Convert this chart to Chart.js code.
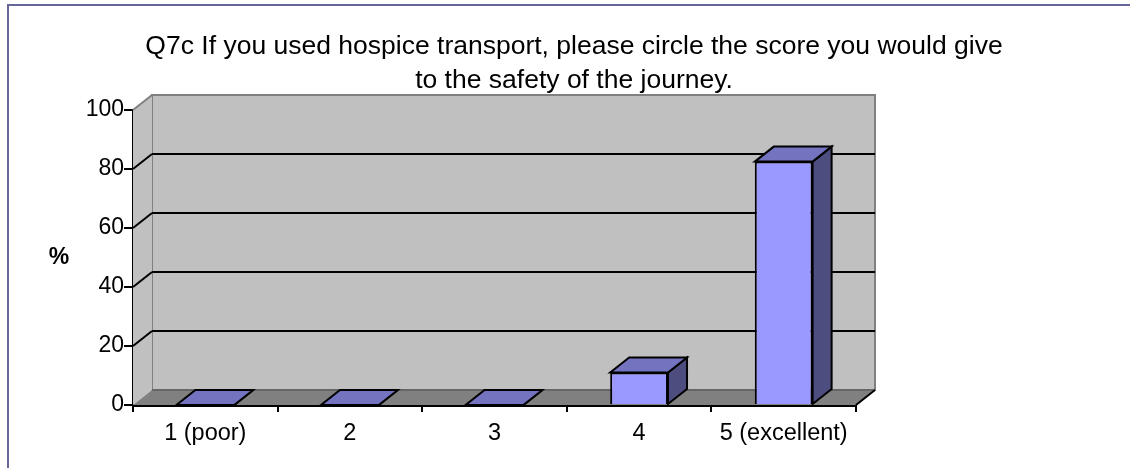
<!DOCTYPE html>
<html lang="en">
<head>
    <meta charset="UTF-8">
    <title>Q7c hospice transport</title>
    <script src="https://cdn.jsdelivr.net/npm/chart.js"></script>
    <style>
        body { margin: 0; background: #fff; }
        canvas { display: block; }
    </style>
</head>
<body>
    <canvas id="safetyChart" width="1130" height="468"></canvas>
    <script>
        const categories = ['1 (poor)', '2', '3', '4', '5 (excellent)'];
        const percentages = [0, 0, 0, 11, 82.5];
        const titleLines = [
            'Q7c If you used hospice transport, please circle the score you would give',
            'to the safety of the journey.'
        ];
        const yAxisLabel = '%';

        const depthX = 19;
        const depthY = 15;

        function poly(ctx, points, fill, stroke, lineWidth) {
            ctx.beginPath();
            points.forEach((p, i) => i ? ctx.lineTo(p[0], p[1]) : ctx.moveTo(p[0], p[1]));
            ctx.closePath();
            ctx.fillStyle = fill;
            ctx.fill();
            if (stroke) {
                ctx.strokeStyle = stroke;
                ctx.lineWidth = lineWidth;
                ctx.stroke();
            }
        }

        function line(ctx, x1, y1, x2, y2, color, width) {
            ctx.beginPath();
            ctx.moveTo(x1, y1);
            ctx.lineTo(x2, y2);
            ctx.strokeStyle = color;
            ctx.lineWidth = width;
            ctx.stroke();
        }

        // frame, back wall, side wall, floor and the 3d part of the bars
        const box3d = {
            id: 'box3d',
            afterLayout(chart) {
                // title is centred on the whole figure, not on the plot
                chart.titleBlock.left = 0;
                chart.titleBlock.right = 1148;
            },
            beforeDraw(chart) {
                const ctx = chart.ctx;
                ctx.save();
                line(ctx, 8, 5, 1130, 5, '#666699', 2);
                line(ctx, 8, 4, 8, 468, '#666699', 2);
                // scale titles get rotated on a y axis, this one stays upright
                ctx.fillStyle = '#000';
                ctx.font = 'bold 23px "Liberation Sans"';
                ctx.textAlign = 'center';
                ctx.textBaseline = 'middle';
                ctx.fillText(yAxisLabel, 59, 258);
                ctx.restore();
            },
            beforeDatasetsDraw(chart) {
                const ctx = chart.ctx;
                const a = chart.chartArea;
                const y = chart.scales.y;
                ctx.save();
                poly(ctx, [[a.left + depthX, a.top - depthY], [a.right + depthX, a.top - depthY],
                    [a.right + depthX, a.bottom - depthY], [a.left + depthX, a.bottom - depthY]], '#c0c0c0', '#808080', 2);
                poly(ctx, [[a.left, a.top], [a.left + depthX, a.top - depthY],
                    [a.left + depthX, a.bottom - depthY], [a.left, a.bottom]], '#c0c0c0');
                line(ctx, a.left, a.top, a.left + depthX, a.top - depthY, '#808080', 2);
                poly(ctx, [[a.left, a.bottom], [a.left + depthX, a.bottom - depthY],
                    [a.right + depthX, a.bottom - depthY], [a.right, a.bottom]], '#808080');
                line(ctx, a.left + depthX, a.bottom - depthY, a.right + depthX, a.bottom - depthY, '#666666', 2);
                y.ticks.forEach(t => {
                    if (t.value === 0 || t.value === 100) return;
                    const py = y.getPixelForValue(t.value);
                    line(ctx, a.left, py, a.left + depthX, py - depthY, '#000', 2);
                    line(ctx, a.left + depthX, py - depthY, a.right + depthX, py - depthY, '#000', 2);
                });
                line(ctx, a.right, a.bottom, a.right + depthX, a.bottom - depthY, '#000', 2);

                chart.getDatasetMeta(0).data.forEach(bar => {
                    const left = bar.x - bar.width / 2;
                    const right = bar.x + bar.width / 2;
                    poly(ctx, [[right, bar.y], [right + depthX, bar.y - depthY],
                        [right + depthX, bar.base - depthY], [right, bar.base]], '#4d4d80', '#000', 2);
                    poly(ctx, [[left, bar.y], [left + depthX, bar.y - depthY],
                        [right + depthX, bar.y - depthY], [right, bar.y]], '#7373bf', '#000', 2);
                });
                ctx.restore();
            }
        };

        new Chart(document.getElementById('safetyChart'), {
            type: 'bar',
            data: {
                labels: categories,
                datasets: [{
                    data: percentages,
                    backgroundColor: '#9999ff',
                    borderColor: '#000',
                    borderWidth: 2,
                    barPercentage: 0.4,
                    categoryPercentage: 1
                }]
            },
            plugins: [box3d],
            options: {
                responsive: false,
                animation: false,
                layout: { padding: { left: 50, right: 274, top: 30, bottom: 20 } },
                plugins: {
                    legend: { display: false },
                    tooltip: { enabled: false },
                    title: {
                        display: true,
                        text: titleLines,
                        color: '#000',
                        font: { family: 'Liberation Sans', size: 26.5, weight: 'normal', lineHeight: 1.283 },
                        padding: { top: 0, bottom: 12 }
                    }
                },
                scales: {
                    x: {
                        grid: { drawOnChartArea: false, color: '#000', lineWidth: 2, tickLength: 7 },
                        border: { color: '#000', width: 3 },
                        ticks: { color: '#000', padding: 7, font: { family: 'Liberation Sans', size: 23.5 } },
                        afterFit: s => { s.height = 43; }
                    },
                    y: {
                        min: 0,
                        max: 100,
                        grid: { drawOnChartArea: false, color: '#000', lineWidth: 2, tickLength: 9 },
                        border: { color: '#000', width: 2 },
                        ticks: { color: '#000', stepSize: 20, padding: 0, font: { family: 'Liberation Sans', size: 23 } },
                        afterFit: s => { s.width = 83; }
                    }
                }
            }
        });
    </script>
</body>
</html>
